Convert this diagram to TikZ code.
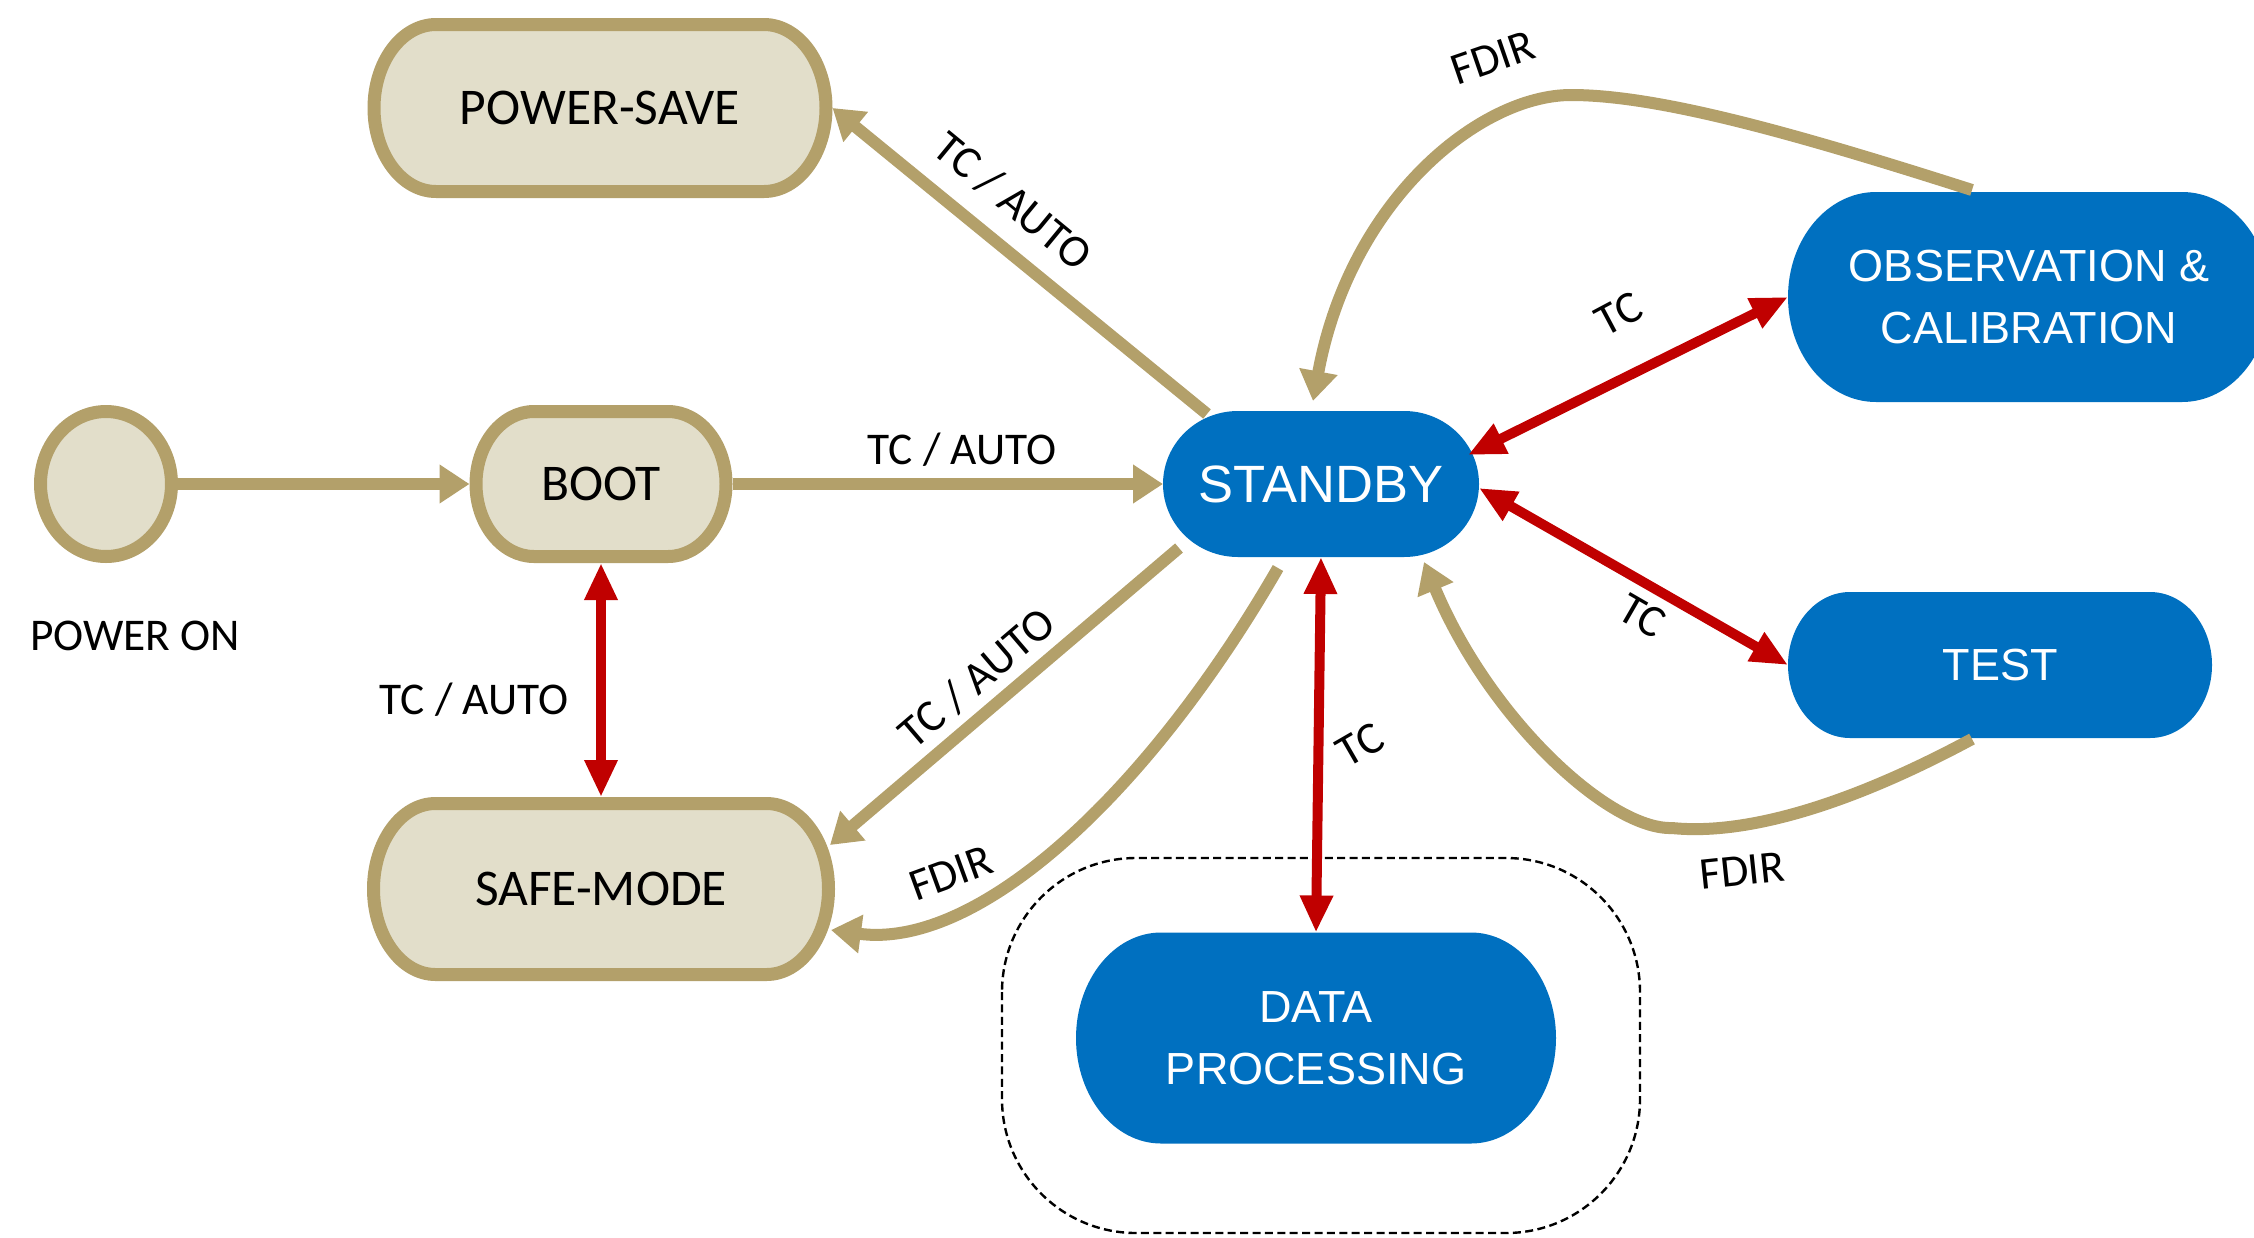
\documentclass[tikz,border=0pt]{standalone}
\usepackage{fontspec}
\setmainfont{Carlito}
\newfontfamily\arialfont{Liberation Sans}
\usetikzlibrary{arrows.meta,calc,shapes.geometric}
\definecolor{tanc}{HTML}{B3A06A}
\definecolor{beige}{HTML}{E2DECA}
\definecolor{esablue}{HTML}{0070C0}
\definecolor{darkred}{HTML}{C00000}
% stadium with elliptical ends: style, cx, cy, w, h, rx (image pixel units)
\newcommand{\stadshape}[6]{%
  \path[#1] ({#2-#4/2+#6},{#3-#5/2}) -- ({#2+#4/2-#6},{#3-#5/2})
    arc[start angle=-90,end angle=90,x radius=#6,y radius=#5/2]
    -- ({#2-#4/2+#6},{#3+#5/2})
    arc[start angle=90,end angle=270,x radius=#6,y radius=#5/2] -- cycle;}
\tikzset{
  tanshape/.style={draw=tanc, fill=beige, line width=6.5pt},
  blueshape/.style={fill=esablue},
  tantext/.style={font=\fontsize{25.75}{30}\selectfont, inner sep=0pt, outer sep=0pt},
  bluetext/.style={text=white, font=\arialfont\fontsize{22.5}{31}\selectfont, align=center, inner sep=0pt, outer sep=0pt},
  lbl/.style={font=\fontsize{22.7}{27}\selectfont, inner sep=0pt},
  tanarrow/.style={draw=tanc, line width=6pt, -{Triangle[length=15pt,width=18.5pt]}},
  redarrow/.style={draw=darkred, line width=5pt, {Triangle[length=18.5pt,width=15.5pt]}-{Triangle[length=18.5pt,width=15.5pt]}},
  groupbox/.style={draw=black, line width=1.2pt, dash pattern=on 4pt off 2.2pt, rounded corners=67pt}
}
\begin{document}
\begin{tikzpicture}[x=0.5pt,y=-0.5pt]
\useasboundingbox (0,0) rectangle (2254,1237);
% dashed group outline
\draw[groupbox] (1002,858) rectangle (1640,1233);
% state shapes
\stadshape{tanshape}{600}{108}{452}{167}{62}
\stadshape{tanshape}{601}{484}{250}{145}{58}
\stadshape{tanshape}{601}{889}{455}{171}{62}
\stadshape{blueshape}{1321}{484}{316}{146}{75}
\stadshape{blueshape}{2029}{297}{482}{210}{88}
\stadshape{blueshape}{2000}{665}{424}{146}{62}
\stadshape{blueshape}{1316}{1038}{480}{211}{85}
% named nodes
\node[ellipse, draw=tanc, fill=beige, line width=6.5pt, minimum width=65.5pt, minimum height=72.5pt, inner sep=0pt] (pon) at (106,484) {};
\node[tantext, minimum width=232.5pt, minimum height=90pt] (ps) at (600,108) {POWER-SAVE};
\node[tantext, minimum width=131.5pt, minimum height=79pt] (boot) at (601,484) {BOOT};
\node[tantext, minimum width=234pt, minimum height=92pt] (safe) at (601,889) {SAFE-MODE};
\node[bluetext, font=\arialfont\fontsize{26.25}{31}\selectfont, minimum width=158pt, minimum height=73pt] (standby) at (1321,484) {STANDBY};
\node[bluetext, minimum width=241pt, minimum height=105pt] (obs) at (2029,297) {OBSERVATION \&\\CALIBRATION};
\node[bluetext, minimum width=212pt, minimum height=73pt] (test) at (2000,665) {TEST};
\node[bluetext, minimum width=240pt, minimum height=105.5pt] (dp) at (1316,1038) {DATA\\PROCESSING};
\node[lbl] (ponlbl) at (135,636) {POWER ON};
% tan connectors
\draw[tanarrow] (pon.east) -- (boot.west);
\draw[tanarrow] (boot.east) -- (standby.west);
\draw[tanarrow] ($(standby.center)+(-114,-70)$) -- (ps.east);
\draw[tanarrow] ($(standby.center)+(-142,64)$) -- ($(safe.center)+(229,-44)$);
\draw[tanarrow] ($(standby.center)+(-43,84)$) .. controls (1150,790) and (980,950) .. ($(safe.center)+(230,41)$);
\draw[tanarrow] ($(obs.center)+(-57,-107)$) .. controls (1800,135) and (1660,95) .. (1571,95)
   .. controls (1480,95) and (1350,200) .. ($(standby.center)+(-8,-83)$);
\draw[tanarrow] ($(test.center)+(-28,74)$) .. controls (1840,810) and (1740,835) .. (1672,828)
   .. controls (1610,830) and (1490,720) .. ($(standby.center)+(103,78)$);
% red connectors
\draw[redarrow] (boot.south) -- (safe.north);
\draw[redarrow] ($(standby.center)+(147,-29)$) -- (obs.west);
\draw[redarrow] ($(standby.center)+(158,4)$) -- (test.west);
\draw[redarrow] (standby.south) -- (dp.north);
% labels
\node[lbl] (l1) at (962,450) {TC / AUTO};
\node[lbl, rotate=-39.5] (l2) at (1013,201) {TC / AUTO};
\node[lbl, rotate=40.5] (l3) at (977,678) {TC / AUTO};
\node[lbl, rotate=20] (l4) at (951,873) {FDIR};
\node[lbl, rotate=19] (l5) at (1493,58) {FDIR};
\node[lbl, rotate=6] (l6) at (1742,871) {FDIR};
\node[lbl] (l7) at (474,700) {TC / AUTO};
\node[lbl, rotate=28] (l8) at (1619,314) {TC};
\node[lbl, rotate=-30] (l9) at (1642,616) {TC};
\node[lbl, rotate=30] (l10) at (1360,745) {TC};
\end{tikzpicture}
\end{document}
